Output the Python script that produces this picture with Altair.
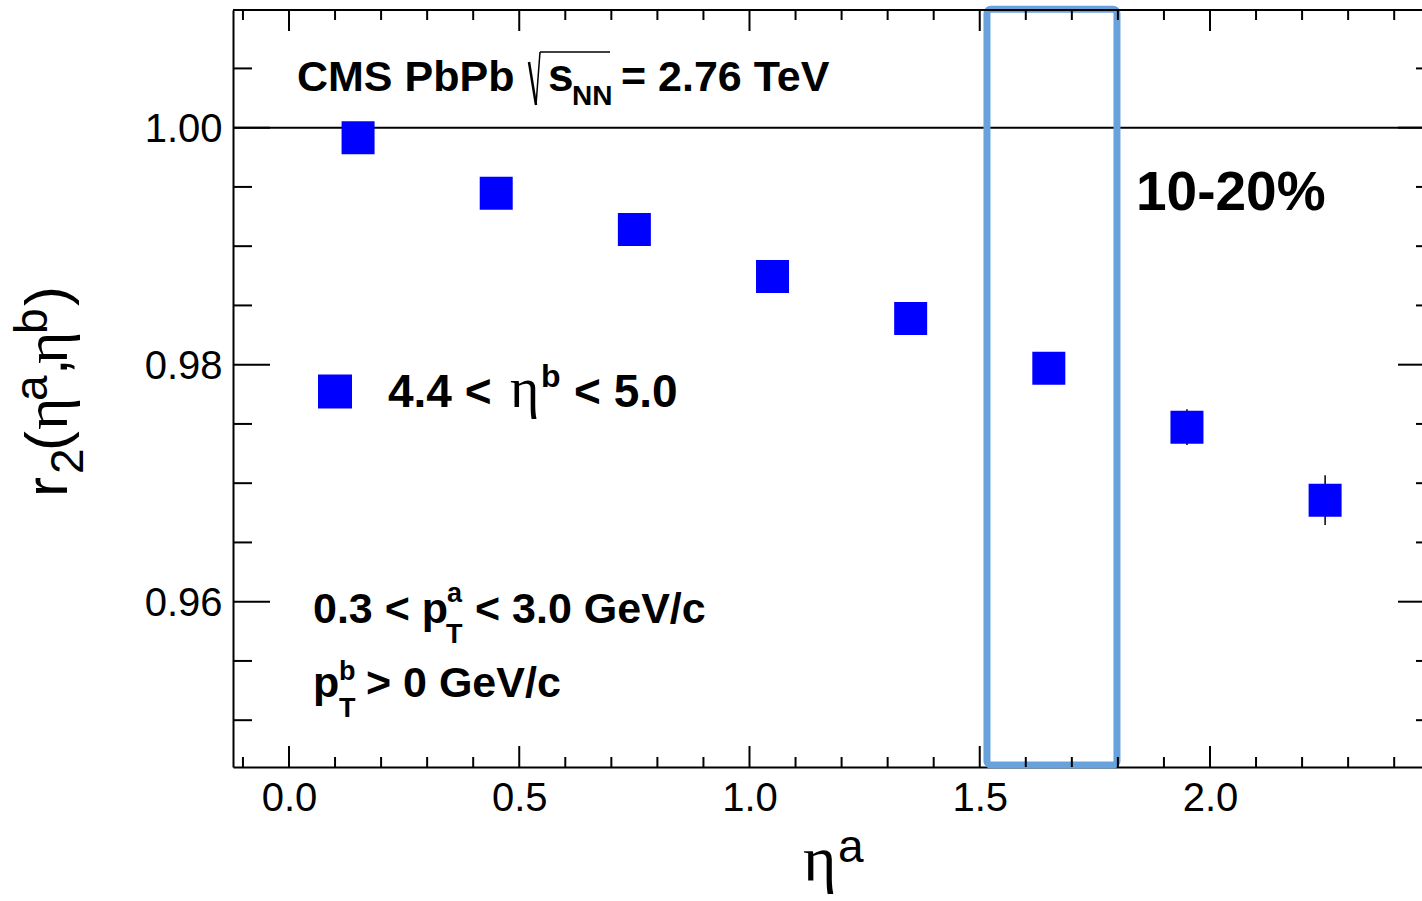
import altair as alt
import pandas as pd

# ---------------- data ----------------
eta_a = [0.15, 0.45, 0.75, 1.05, 1.35, 1.65, 1.95, 2.25]
r2 = [0.99915, 0.99446, 0.99141, 0.98744, 0.98390, 0.97969, 0.97473, 0.96857]
r2_err = [0.0004, 0.0005, 0.0006, 0.0007, 0.0009, 0.0011, 0.0015, 0.0021]

x_major = [0.0, 0.5, 1.0, 1.5, 2.0]
x_minor = [-0.1, 0.1, 0.2, 0.3, 0.4, 0.6, 0.7, 0.8, 0.9, 1.1, 1.2, 1.3, 1.4,
           1.6, 1.7, 1.8, 1.9, 2.1, 2.2, 2.3, 2.4]
y_major = [0.96, 0.98, 1.00]
y_minor = [0.95, 0.955, 0.965, 0.97, 0.975, 0.985, 0.99, 0.995, 1.005]
unity = [1.0]
box_x = [1.5157, 1.798]      # highlighted eta range
box_y = [1.0100, 0.94622]

X_DOMAIN = [-0.1216, 2.4604]
Y_DOMAIN = [0.94605, 1.00993]
W, H = 1189, 757
X0, Y0 = 233, 10           # page position of the plot origin
RIGHT_EDGE = 1202           # frame right edge (just outside the window)

BLUE = "#0000ff"
SANS = "Liberation Sans"
SERIF = "Liberation Serif"

xs = alt.Scale(domain=X_DOMAIN, nice=False, zero=False)
ys = alt.Scale(domain=Y_DOMAIN, nice=False, zero=False)

X_AX = alt.Axis(values=x_major, format=".1f", grid=False, ticks=False, tickSize=0,
                domain=True, domainColor="black", domainWidth=2,
                labelFont=SANS, labelFontSize=40, labelColor="black",
                labelPadding=43, labelBaseline="alphabetic", labelFlush=False,
                title=None)
Y_AX = alt.Axis(values=y_major, format=".2f", grid=False, ticks=False, tickSize=0,
                domain=True, domainColor="black", domainWidth=2,
                labelFont=SANS, labelFontSize=40, labelColor="black",
                labelPadding=11, labelOffset=2, labelFlush=False, title=None)


def X(field):
    return alt.X(field, type="quantitative", scale=xs, axis=X_AX)


def Y(field):
    return alt.Y(field, type="quantitative", scale=ys, axis=Y_AX)


df = pd.DataFrame({"eta_a": eta_a, "r2": r2,
                   "lo": [v - e for v, e in zip(r2, r2_err)],
                   "hi": [v + e for v, e in zip(r2, r2_err)]})


def txt(s, px, py, size, font=SANS, weight="bold", angle=0):
    return alt.Chart(pd.DataFrame({"t": [s]})).mark_text(
        font=font, fontSize=size, fontWeight=weight, angle=angle,
        align="left", baseline="alphabetic", color="black"
    ).encode(x=alt.value(px - X0), y=alt.value(py - Y0), text="t:N")


def seg(x1, y1, x2, y2, w):
    return alt.Chart(pd.DataFrame({"d": [0]})).mark_rule(
        color="black", strokeWidth=w
    ).encode(x=alt.value(x1 - X0), y=alt.value(y1 - Y0),
             x2=alt.value(x2 - X0), y2=alt.value(y2 - Y0))


def xticks(vals, length):
    base = alt.Chart(pd.DataFrame({"v": vals})).mark_rule(color="black", strokeWidth=2)
    return alt.layer(
        base.encode(x=X("v"), y=alt.value(H), y2=alt.value(H - length)),
        base.encode(x=X("v"), y=alt.value(0), y2=alt.value(length)),
    )


def yticks(vals, length):
    base = alt.Chart(pd.DataFrame({"v": vals})).mark_rule(color="black", strokeWidth=2)
    return alt.layer(
        base.encode(y=Y("v"), x=alt.value(0), x2=alt.value(length)),
        base.encode(y=Y("v"), x=alt.value(RIGHT_EDGE - length), x2=alt.value(W)),
    )


unity_line = alt.Chart(pd.DataFrame({"u": unity})).mark_rule(
    color="black", strokeWidth=2).encode(y=Y("u"))

errbars = alt.Chart(df).mark_rule(color="black", strokeWidth=1.5).encode(
    x=X("eta_a"), y=Y("lo"), y2="hi:Q")

points = alt.Chart(df).mark_square(size=1089, color=BLUE, opacity=1).encode(
    x=X("eta_a"), y=Y("r2"))

box = alt.Chart(pd.DataFrame({"x1": [box_x[0]], "x2": [box_x[1]],
                              "y1": [box_y[0]], "y2": [box_y[1]]})).mark_rect(
    fillOpacity=0, stroke="#68a2dc", strokeWidth=7, cornerRadius=4).encode(
    x=X("x1"), x2="x2:Q", y=Y("y1"), y2="y2:Q")

top_border = alt.Chart(pd.DataFrame({"d": [0]})).mark_rule(
    color="black", strokeWidth=2).encode(
    x=alt.value(0), x2=alt.value(W), y=alt.value(0))

legend_sq = alt.Chart(pd.DataFrame({"d": [0]})).mark_square(
    size=1156, color=BLUE, opacity=1).encode(
    x=alt.value(335 - X0), y=alt.value(391.5 - Y0))

texts = [
    # header
    txt("CMS PbPb", 297, 91, 43),
    txt("s", 548, 91, 46),
    txt("NN", 572, 105, 28),
    txt("= 2.76 TeV", 621, 91, 43),
    # centrality
    txt("10-20%", 1136, 210, 55),
    # legend
    txt("4.4 <", 388, 407, 46),
    txt("η", 510, 407, 56, font=SERIF, weight="normal"),
    txt("b", 541, 387, 32),
    txt("< 5.0", 574, 407, 46),
    # pT conditions
    txt("0.3 < p", 313, 623, 43),
    txt("a", 447, 602, 27),
    txt("T", 446, 643, 27),
    txt("< 3.0 GeV/c", 475, 623, 43),
    txt("p", 313, 697, 43),
    txt("b", 339, 680, 27),
    txt("T", 339, 717, 27),
    txt("> 0 GeV/c", 366, 697, 43),
    # x title
    txt("η", 803, 880, 64, font=SERIF, weight="normal"),
    txt("a", 838, 862, 46, weight="normal"),
    # y title (rotated)
    txt("r", 67, 497, 60, weight="normal", angle=270),
    txt("2", 83, 474, 46, weight="normal", angle=270),
    txt("(", 67, 451, 60, weight="normal", angle=270),
    txt("η", 67, 430, 62, font=SERIF, weight="normal", angle=270),
    txt("a", 47, 401, 46, weight="normal", angle=270),
    txt(",", 67, 375, 60, weight="normal", angle=270),
    txt("η", 67, 364, 62, font=SERIF, weight="normal", angle=270),
    txt("b", 47, 334, 46, weight="normal", angle=270),
    txt(")", 67, 306, 60, weight="normal", angle=270),
]

radical = [
    seg(529, 62, 536, 105, 2.5),
    seg(536, 105, 540, 52, 1.5),
    seg(540, 52, 610, 52, 1.5),
]

chart = alt.layer(
    unity_line, errbars, points, box,
    xticks(x_major, 21), xticks(x_minor, 10),
    yticks(y_major, 37), yticks(y_minor, 19),
    top_border, legend_sq, *radical, *texts,
).properties(
    width=W, height=H,
    autosize=alt.AutoSizeParams(type="none"),
    padding={"left": X0, "top": Y0, "right": 0, "bottom": 128},
    background="white",
).configure_view(stroke=None)

chart.save("out.html", embed_options={"renderer": "svg", "actions": False})
